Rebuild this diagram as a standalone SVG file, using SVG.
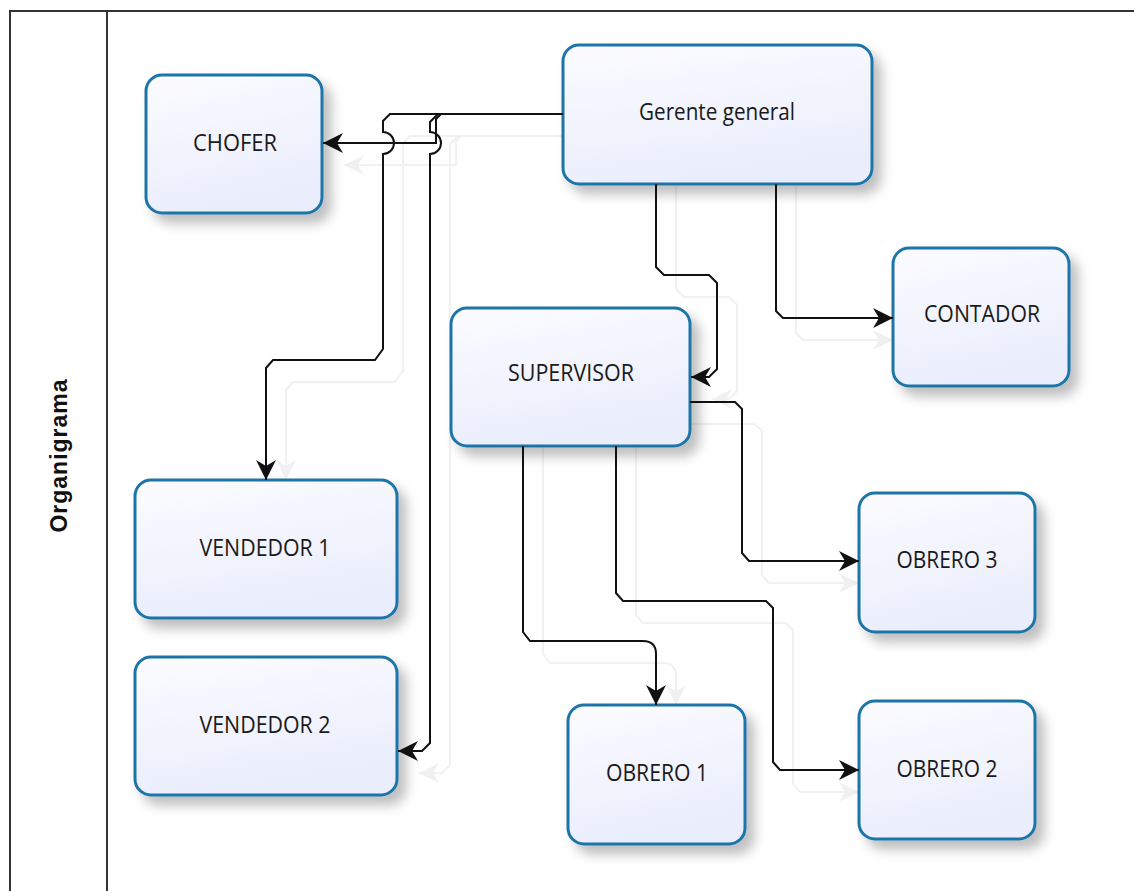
<svg xmlns="http://www.w3.org/2000/svg" width="1134" height="891" viewBox="0 0 1134 891">
<defs>
<linearGradient id="nodeFill" x1="0" y1="0" x2="0.3" y2="1">
<stop offset="0" stop-color="#fcfcff"/>
<stop offset="1" stop-color="#eaedfc"/>
</linearGradient>
<filter id="shadow" x="-20%" y="-20%" width="150%" height="150%">
<feDropShadow dx="8" dy="9" stdDeviation="6" flood-color="#000" flood-opacity="0.25"/>
</filter>
<marker id="arrow" markerUnits="userSpaceOnUse" markerWidth="24" markerHeight="22" refX="20" refY="10" orient="auto">
<path d="M0,0 L20,10 L0,20 L6,10 Z" fill="#111"/>
</marker>
<marker id="ghostArrow" markerUnits="userSpaceOnUse" markerWidth="24" markerHeight="22" refX="20" refY="10" orient="auto">
<path d="M0,0 L20,10 L0,20 L6,10 Z" fill="#f0f0f0"/>
</marker>
<style>
.node rect{fill:url(#nodeFill);stroke:#1f74a8;stroke-width:3;filter:url(#shadow)}
.node text{font-family:"Open Sans","DejaVu Sans",sans-serif;font-size:23px;fill:#1a1a1a;text-anchor:middle}
.conn{fill:none;stroke:#111;stroke-width:2;marker-end:url(#arrow)}
.ghost{fill:none;stroke:#f1f1f1;stroke-width:2;stroke-linejoin:round;marker-end:url(#ghostArrow)}
.lane{fill:none;stroke:#333;stroke-width:2}
</style>
</defs>
<rect width="1134" height="891" fill="#fff"/>
<g id="lane">
<rect class="lane" x="10" y="11" width="1140" height="900"/>
<line class="lane" x1="107" y1="11" x2="107" y2="891"/>
<text x="0" y="0" transform="translate(67,456) rotate(-90)" font-family="Liberation Sans, Arial, sans-serif" font-weight="bold" font-size="23" text-anchor="middle" textLength="153" lengthAdjust="spacing" fill="#111">Organigrama</text>
</g>
<g id="connector-shadows" transform="translate(20,22)">
<path class="ghost" d="M543,114 H441 L436,119 V143 H324"/>
<path class="ghost" d="M543,114 H390 L383,121 V349 L375,360 H273 L266,368 V458"/>
<path class="ghost" d="M543,114 H438 L430,122 V743 L422,751 H399"/>
<path class="ghost" d="M656,162 V267 L664,275 H709 L717,283 V369 L709,377 H692"/>
<path class="ghost" d="M776,162 V311 L783,318 H873"/>
<path class="ghost" d="M670,402 H735 L742,409 V553 L749,561 H839"/>
<path class="ghost" d="M523,424 V632 L530,641 H643 Q656,641 656,654 V683"/>
<path class="ghost" d="M616,424 V593 L623,601 H766 L773,608 V762 L780,770 H839"/>
</g>
<g id="nodes-base">
<g id="gerente" class="node"><rect x="563" y="45" width="309" height="139" rx="16"/><text x="717" y="120" textLength="156" lengthAdjust="spacingAndGlyphs">Gerente general</text></g>
<g id="chofer" class="node"><rect x="146" y="75" width="176" height="138" rx="16"/><text x="235" y="151" textLength="84" lengthAdjust="spacingAndGlyphs">CHOFER</text></g>
<g id="contador" class="node"><rect x="893" y="248" width="176" height="138" rx="16"/><text x="982" y="322" textLength="116" lengthAdjust="spacingAndGlyphs">CONTADOR</text></g>
<g id="supervisor" class="node"><rect x="451" y="308" width="239" height="138" rx="16"/><text x="571" y="381" textLength="126" lengthAdjust="spacingAndGlyphs">SUPERVISOR</text></g>
<g id="vendedor1" class="node"><rect x="135" y="480" width="262" height="138" rx="16"/><text x="265" y="556" textLength="131" lengthAdjust="spacingAndGlyphs">VENDEDOR 1</text></g>
<g id="vendedor2" class="node"><rect x="135" y="657" width="262" height="138" rx="16"/><text x="265" y="733" textLength="131" lengthAdjust="spacingAndGlyphs">VENDEDOR 2</text></g>
<g id="obrero3" class="node"><rect x="859" y="493" width="176" height="139" rx="16"/><text x="947" y="568" textLength="101" lengthAdjust="spacingAndGlyphs">OBRERO 3</text></g>
<g id="obrero1" class="node"><rect x="568" y="705" width="177" height="139" rx="16"/><text x="657" y="781" textLength="102" lengthAdjust="spacingAndGlyphs">OBRERO 1</text></g>
<g id="obrero2" class="node"><rect x="859" y="701" width="176" height="138" rx="16"/><text x="947" y="777" textLength="101" lengthAdjust="spacingAndGlyphs">OBRERO 2</text></g>
</g>
<g id="connectors">
<path class="conn" d="M563,114 H441 L436,119 V143 H323"/>
<path class="conn" d="M563,114 H390 L383,121 V132 A11,11 0 0 1 383,154 V349 L375,360 H273 L266,368 V480"/>
<path class="conn" d="M563,114 H438 L430,122 V132 A11,11 0 0 1 430,154 V743 L422,751 H398"/>
<path class="conn" d="M656,184 V267 L664,275 H709 L717,283 V369 L709,377 H691"/>
<path class="conn" d="M776,184 V311 L783,318 H893"/>
<path class="conn" d="M690,402 H735 L742,409 V553 L749,561 H859"/>
<path class="conn" d="M523,446 V632 L530,641 H643 Q656,641 656,654 V705"/>
<path class="conn" d="M616,446 V593 L623,601 H766 L773,608 V762 L780,770 H859"/>
</g>
</svg>
